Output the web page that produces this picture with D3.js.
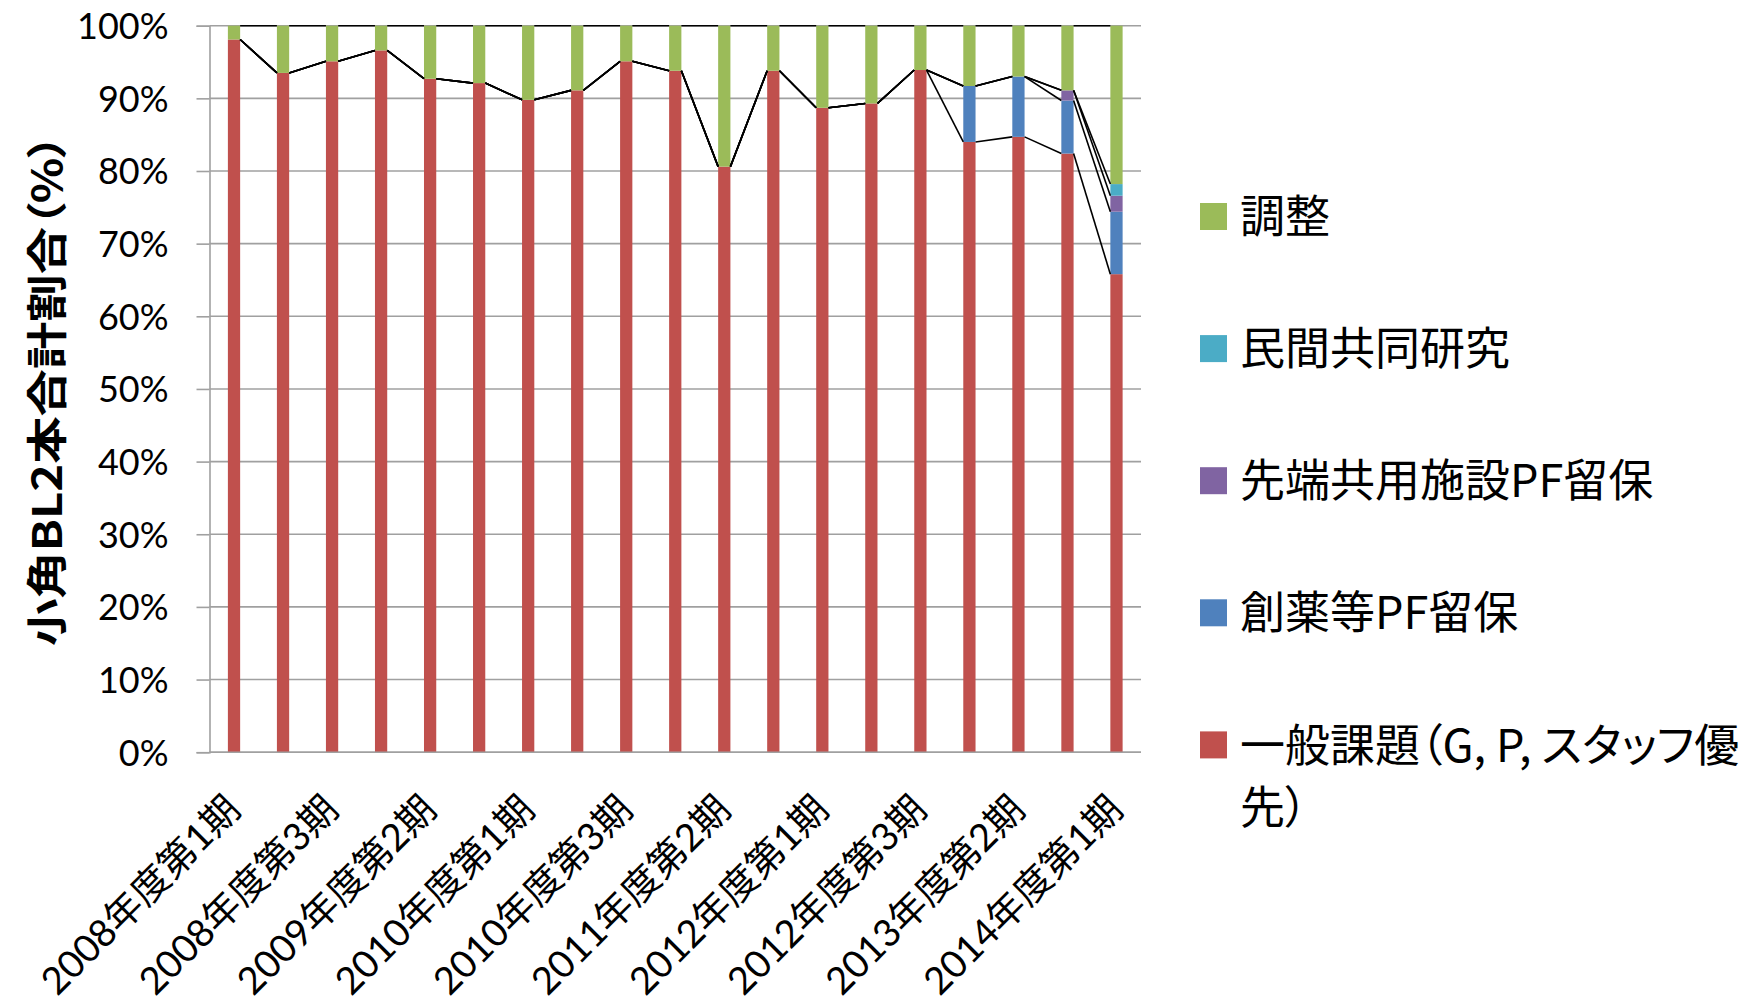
<!DOCTYPE html>
<html><head><meta charset="utf-8">
<script src="https://cdn.jsdelivr.net/npm/d3@7"></script>
<style>
body{margin:0;background:#fff;}
svg{display:block;}
</style></head>
<body>
<svg id="chart" width="1755" height="1006"></svg>
<script>
const categories = [
 "2008年度第1期","2008年度第2期","2008年度第3期",
 "2009年度第1期","2009年度第2期","2009年度第3期",
 "2010年度第1期","2010年度第2期","2010年度第3期",
 "2011年度第1期","2011年度第2期","2011年度第3期",
 "2012年度第1期","2012年度第2期","2012年度第3期",
 "2013年度第1期","2013年度第2期","2013年度第3期",
 "2014年度第1期"];
const general  = [98.1,93.5,95.1,96.6,92.7,92.1,89.8,91.1,95.1,93.8,80.6,93.8,88.7,89.3,93.9,84.0,84.7,82.4,65.8];
const drugPF   = [0,0,0,0,0,0,0,0,0,0,0,0,0,0,0,7.7,8.3,7.3,8.6];
const advPF    = [0,0,0,0,0,0,0,0,0,0,0,0,0,0,0,0,0,1.4,2.2];
const privateR = [0,0,0,0,0,0,0,0,0,0,0,0,0,0,0,0,0,0,1.6];
const adjust   = [1.9,6.5,4.9,3.4,7.3,7.9,10.2,8.9,4.9,6.2,19.4,6.2,11.3,10.7,6.1,8.3,7.0,8.9,21.8];
const seriesNames = ["一般課題（G, P, スタッフ優先）","創薬等PF留保","先端共用施設PF留保","民間共同研究","調整"];
const seriesColors = ["#C0504D","#4F81BD","#8064A2","#4BACC6","#9BBB59"];
const yTicks = [0,10,20,30,40,50,60,70,80,90,100];
const yTitle = "小角BL2本合計割合（%）";

const svg = d3.select("#chart");
const L = 209.5, R = 1141, T = 25.7, B = 752.2;

const x = d3.scaleBand().domain(categories).range([L, R]).paddingInner(0.75).paddingOuter(0.375);
const y = d3.scaleLinear().domain([0, 100]).range([B, T]);

const seriesData = [general, drugPF, advPF, privateR, adjust];
const rows = categories.map((c, i) => {
  const o = {cat: c};
  seriesNames.forEach((n, k) => o[n] = seriesData[k][i]);
  return o;
});
const stacked = d3.stack().keys(seriesNames)(rows);

// gridlines
svg.append("g").selectAll("line").data(yTicks).join("line")
  .attr("x1", L).attr("x2", R).attr("y1", d => y(d)).attr("y2", d => y(d))
  .attr("stroke", "#a0a0a0").attr("stroke-width", 1.6);

// y axis
const yAxis = d3.axisLeft(y).tickValues(yTicks).tickSize(13).tickPadding(28).tickFormat(d => d + "%");
const gy = svg.append("g").attr("transform", `translate(${L},0)`).call(yAxis);
gy.select(".domain").attr("stroke", "#a0a0a0").attr("stroke-width", 1.6);
gy.selectAll(".tick line").attr("stroke", "#a0a0a0").attr("stroke-width", 1.6);
gy.selectAll(".tick text").attr("font-family", "Lato, 'Noto Sans CJK JP', sans-serif")
  .attr("font-size", 36).attr("fill", "#000").attr("dy", "0.36em");

// bars
svg.append("g").selectAll("g").data(stacked).join("g")
  .attr("fill", (d, k) => seriesColors[k])
  .selectAll("rect").data(d => d).join("rect")
  .attr("x", d => x(d.data.cat)).attr("width", x.bandwidth())
  .attr("y", d => y(d[1])).attr("height", d => Math.max(0, y(d[0]) - y(d[1])));

// series lines
const lineG = svg.append("g");
stacked.forEach(s => {
  for (let i = 0; i < s.length - 1; i++) {
    lineG.append("line")
      .attr("x1", x(categories[i]) + x.bandwidth()).attr("y1", y(s[i][1]))
      .attr("x2", x(categories[i + 1])).attr("y2", y(s[i + 1][1]))
      .attr("stroke", "#000").attr("stroke-width", 1.6);
  }
});

// x axis line
svg.append("line").attr("x1", L).attr("x2", R).attr("y1", B).attr("y2", B)
  .attr("stroke", "#a0a0a0").attr("stroke-width", 1.6);

// x labels (every other category)
svg.append("g").selectAll("text").data(categories.filter((c, i) => i % 2 === 0)).join("text")
  .attr("transform", d => `translate(${x(d) + x.bandwidth() / 2 - 2},801) rotate(-45)`)
  .attr("text-anchor", "end").attr("dominant-baseline", "central")
  .attr("font-family", "Lato, 'Noto Sans CJK JP', sans-serif").attr("font-size", 38)
  .attr("fill", "#000").text(d => d);

// y title
svg.append("text").attr("transform", "translate(44,390) rotate(-90)")
  .attr("text-anchor", "middle").attr("dominant-baseline", "central")
  .attr("font-family", "'Noto Sans CJK JP', sans-serif").attr("font-weight", "bold")
  .attr("font-size", 41).style("font-feature-settings", "'palt'")
  .attr("textLength", 512).attr("lengthAdjust", "spacingAndGlyphs")
  .attr("fill", "#000").text(yTitle);

// legend
const legendOrder = [4, 3, 2, 1, 0];
const lg = svg.append("g");
legendOrder.forEach((k, j) => {
  const cy = 216.5 + j * 132.1;
  lg.append("rect").attr("x", 1200).attr("y", cy - 13.5).attr("width", 27).attr("height", 27)
    .attr("fill", seriesColors[k]);
  const t = lg.append("text").attr("x", 1240).attr("y", cy - 3)
    .attr("dominant-baseline", "central")
    .attr("font-family", "'Noto Sans CJK JP', sans-serif").attr("font-size", 45)
    .style("font-feature-settings", "'palt'").attr("fill", "#000");
  if (k === 0) {
    t.append("tspan").attr("x", 1240).attr("dy", 0).text("一般課題（G, P, スタッフ優");
    t.append("tspan").attr("x", 1240).attr("dy", 62).text("先）");
  } else {
    t.text(seriesNames[k]);
  }
});
</script>
</body></html>
